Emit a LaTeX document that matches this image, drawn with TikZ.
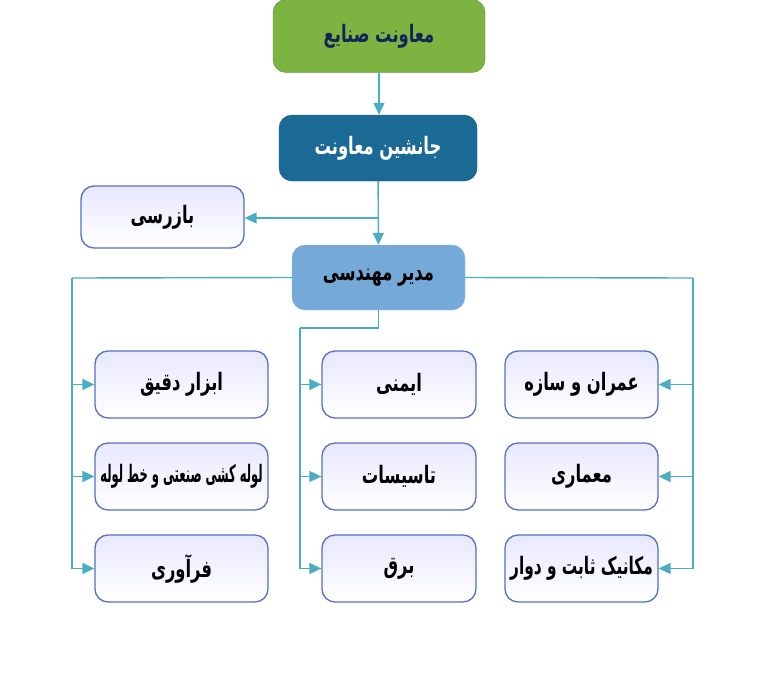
\documentclass[tikz,border=0pt]{standalone}
\usepackage{fontspec}
\usepackage{graphicx}
\usetikzlibrary{positioning, arrows.meta}
\TeXXeTstate=1
\newfontfamily\arabicfont[Script=Arabic]{DejaVu Sans}
% Persian text, squeezed sideways like the original script
\newcommand{\fatext}[2][0.68]{\scalebox{#1}[1]{\arabicfont\bfseries\beginR #2\endR}}
\definecolor{headgreen}{RGB}{125,179,64}
\definecolor{headnavy}{RGB}{20,36,90}
\definecolor{deputyblue}{RGB}{27,106,150}
\definecolor{mgrblue}{RGB}{117,170,216}
\definecolor{unitline}{RGB}{84,112,198}
\definecolor{linkcyan}{RGB}{75,172,198}
\tikzset{
    x=1pt, y=-1pt, % pixel-like units, y downwards
    node distance=92pt, % Distance between stacked units
    box/.style={rounded corners=13pt, align=center, inner sep=2pt, font=\fontsize{24}{28}\selectfont},
    headbox/.style={box, draw=headgreen!75!black, fill=headgreen, text=headnavy,
        minimum width=212pt, minimum height=73pt},
    deputybox/.style={box, draw=deputyblue!85!black, fill=deputyblue, text=white,
        minimum width=198pt, minimum height=66pt},
    mgrbox/.style={box, draw=mgrblue!80!white, fill=mgrblue,
        minimum width=173pt, minimum height=65pt},
    unitbox/.style={box, draw=unitline, line width=1.3pt, top color=blue!9, bottom color=white,
        minimum width=173pt, minimum height=67pt},
    link/.style={draw=linkcyan, line width=1.4pt},
    arrowlink/.style={link, -{Triangle[length=12pt,width=11pt]}},
}

\begin{document}
\begin{tikzpicture}
    \useasboundingbox (0,0) rectangle (768,694);

    % top of the chart
    \node[headbox] (moavenat) at (379,36) {\fatext{معاونت صنایع}};
    \node[deputybox] (janeshin) at (378,148) {\fatext{جانشین معاونت}};
    \node[mgrbox] (modir) at (378.5,277.5) {\fatext{مدیر مهندسی}};
    \node[unitbox, minimum width=163pt, minimum height=62pt] (bazresi) at (162.5,217) {\fatext{بازرسی}};

    % left column
    \node[unitbox] (abzar) at (181.5,384.5) {\fatext{ابزار دقیق}};
    \node[unitbox] (lole) [below of=abzar] {\fatext[0.48]{لوله کشی صنعتی و خط لوله}};
    \node[unitbox] (faravari) [below of=lole] {\fatext{فرآوری}};

    % middle column
    \node[unitbox, minimum width=154pt] (imeni) at (399,384.5) {\fatext{ایمنی}};
    \node[unitbox, minimum width=154pt] (tasisat) [below of=imeni] {\fatext{تاسیسات}};
    \node[unitbox, minimum width=154pt] (bargh) [below of=tasisat] {\fatext{برق}};

    % right column
    \node[unitbox, minimum width=153pt] (omran) at (581.5,384.5) {\fatext{عمران و سازه}};
    \node[unitbox, minimum width=153pt] (memari) [below of=omran] {\fatext{معماری}};
    \node[unitbox, minimum width=153pt] (mechanic) [below of=memari] {\fatext[0.64]{مکانیک ثابت و دوار}};

    % bus points
    \coordinate (split) at (378,218);
    \coordinate (lbus) at (72,278);
    \coordinate (rbus) at (693,278);
    \coordinate (mbus) at (300,328);

    \path[arrowlink] (moavenat) -- (moavenat |- janeshin.north);
    \path[arrowlink] (janeshin) -- (modir);
    \path[arrowlink] (split) -- (split -| bazresi.east);

    \path[link] (modir.west) -- (lbus);
    \path[arrowlink] (lbus) |- (abzar.west);
    \path[arrowlink] (lbus) |- (lole.west);
    \path[arrowlink] (lbus) |- (faravari.west);

    \path[link] (modir.south) |- (mbus);
    \path[arrowlink] (mbus) |- (imeni.west);
    \path[arrowlink] (mbus) |- (tasisat.west);
    \path[arrowlink] (mbus) |- (bargh.west);

    \path[link] (modir.east) -- (rbus);
    \path[arrowlink] (rbus) |- (omran.east);
    \path[arrowlink] (rbus) |- (memari.east);
    \path[arrowlink] (rbus) |- (mechanic.east);
\end{tikzpicture}
\end{document}
